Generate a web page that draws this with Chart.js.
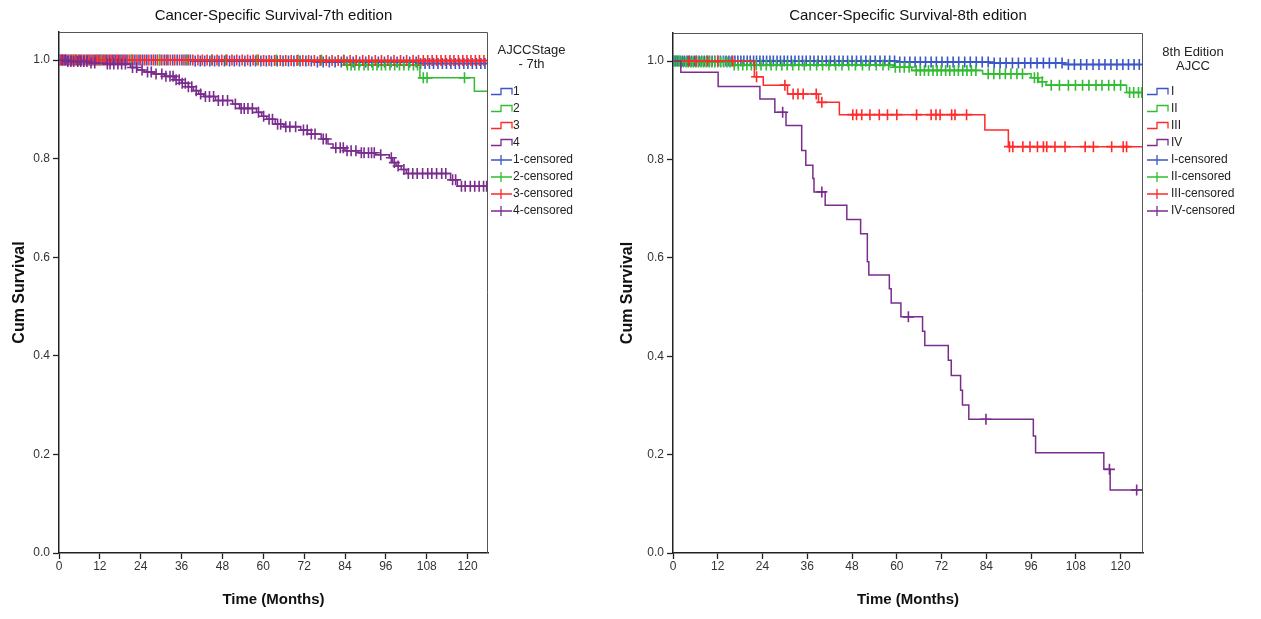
<!DOCTYPE html>
<html>
<head>
<meta charset="utf-8">
<script src="https://cdn.jsdelivr.net/npm/chart.js@4/dist/chart.umd.min.js"></script>
<style>
html, body { margin: 0; padding: 0; background: #fff; }
#wrap { position: relative; width: 1261px; height: 619px; }
canvas { position: absolute; top: 0; }
#c7 { left: 0; }
#c8 { left: 610px; }
</style>
</head>
<body>
<div id="wrap">
  <canvas id="c7" width="610" height="619"></canvas>
  <canvas id="c8" width="651" height="619"></canvas>
</div>
<script>
const xTicks = [0, 12, 24, 36, 48, 60, 72, 84, 96, 108, 120];
const yTicks = [0, 0.2, 0.4, 0.6, 0.8, 1.0];
const colors = ['#3a56c8', '#33bb33', '#ff2a2a', '#7b2d8e'];
const FONT = '"Liberation Sans", Arial, sans-serif';

// ---- 7th edition (event times / survival after event / censored times) ----
const t7s1 = [40, 75, 105];
const s7s1 = [0.998, 0.996, 0.993];
const c7s1 = [0.3, 0.8, 1.5, 2.1, 2.9, 3.6, 4.4, 5.2, 6.0, 6.7, 7.5, 8.4, 9.1, 10.0, 10.8, 11.5, 12.3, 13.2, 14.0, 14.9, 15.7, 16.5, 17.4, 18.2, 19.1, 20.0, 21.2, 22.3, 23.5, 24.6, 25.8, 27.1, 28.3, 29.6, 30.9, 32.0, 33.4, 34.7, 36.1, 37.3, 38.6, 40.0, 41.5, 42.8, 44.3, 45.7, 47.0, 48.6, 50.1, 51.5, 53.0, 54.6, 56.2, 57.7, 59.3, 60.9, 62.4, 64.1, 65.8, 67.4, 69.0, 70.8, 72.5, 74.1, 75.9, 77.6, 79.4, 81.1, 82.9, 84.6, 86.4, 88.3, 90.1, 91.9, 93.8, 95.6, 97.5, 99.3, 101.2, 103.0, 104.9, 106.2, 107.5, 108.8, 110.0, 111.3, 112.6, 113.8, 115.1, 116.4, 117.6, 118.9, 120.1, 121.4, 122.6, 123.9, 125.1];

const t7s2 = [84, 106, 122];
const s7s2 = [0.990, 0.964, 0.937];
const c7s2 = [4.6, 12.2, 21.4, 29.5, 37.6, 44.9, 49.0, 58.0, 63.8, 70.2, 77.1, 83.6, 84.7, 85.8, 86.9, 88.1, 89.6, 90.8, 92.2, 93.4, 94.7, 95.9, 97.2, 98.6, 100.0, 101.3, 102.7, 104.1, 105.3, 107.0, 108.1, 119.1];

const t7s3 = [60];
const s7s3 = [0.999];
const c7s3 = [0.5, 1.2, 1.9, 2.6, 3.4, 4.1, 4.9, 5.7, 6.4, 7.2, 8.0, 8.8, 9.6, 10.4, 11.1, 11.9, 12.8, 13.6, 14.4, 15.3, 16.1, 17.0, 17.8, 18.7, 19.6, 20.6, 21.7, 22.9, 24.0, 25.2, 26.4, 27.7, 28.9, 30.2, 31.5, 32.7, 34.0, 35.4, 36.7, 38.0, 39.3, 40.8, 42.1, 43.5, 45.0, 46.4, 47.8, 49.3, 50.8, 52.2, 53.8, 55.4, 57.0, 58.5, 60.1, 61.7, 63.3, 65.0, 66.6, 68.2, 69.9, 71.6, 73.3, 75.0, 76.7, 78.5, 80.2, 82.0, 83.7, 85.5, 87.3, 89.2, 91.0, 92.9, 94.7, 96.6, 98.4, 100.3, 102.1, 104.0, 105.6, 107.0, 108.3, 109.6, 110.9, 112.2, 113.5, 114.8, 116.0, 117.3, 118.6, 119.8, 121.0, 122.3, 123.5, 124.8];

const t7s4 = [2, 9, 14, 21, 23, 25, 28, 31, 34, 36, 38, 39.5, 41, 42.5, 46, 51, 53, 58, 59.5, 61, 63.5, 66, 71, 73, 77, 79, 80.5, 84, 88, 93, 97, 98, 99, 100.5, 102, 115, 117];
const s7s4 = [0.997, 0.994, 0.992, 0.985, 0.980, 0.976, 0.972, 0.967, 0.960, 0.953, 0.946, 0.938, 0.931, 0.926, 0.918, 0.911, 0.902, 0.894, 0.886, 0.880, 0.870, 0.865, 0.858, 0.850, 0.840, 0.830, 0.822, 0.816, 0.812, 0.808, 0.802, 0.792, 0.785, 0.778, 0.770, 0.757, 0.744];
const c7s4 = [1.0, 1.8, 2.6, 3.5, 4.3, 5.5, 6.4, 7.3, 8.2, 9.4, 10.5, 14.2, 15.0, 16.1, 17.3, 18.4, 19.5, 21.6, 22.8, 24.4, 26.0, 27.1, 28.5, 30.2, 31.4, 32.6, 33.5, 34.4, 35.3, 36.2, 37.1, 38.0, 39.0, 40.3, 41.6, 43.0, 44.2, 45.4, 46.8, 48.1, 49.5, 51.8, 53.5, 54.4, 55.5, 56.8, 58.6, 60.1, 61.7, 62.7, 64.2, 65.1, 66.6, 67.8, 69.5, 71.8, 72.9, 74.1, 75.2, 77.6, 78.5, 81.3, 82.6, 83.5, 84.6, 85.8, 87.2, 88.8, 89.6, 90.9, 91.8, 92.6, 94.5, 97.6, 98.5, 99.6, 101.3, 102.6, 103.9, 105.2, 106.8, 108.3, 109.5, 110.9, 112.4, 113.6, 115.6, 116.5, 118.2, 119.3, 120.8, 122.1, 123.4, 124.7, 125.6];

// ---- 8th edition ----
const t8s1 = [60, 85, 105];
const s8s1 = [0.998, 0.996, 0.993];
const c8s1 = [0.2, 0.7, 1.3, 1.9, 2.5, 3.1, 3.8, 4.4, 5.0, 5.7, 6.3, 7.0, 7.7, 8.4, 9.1, 9.8, 10.5, 11.2, 12.0, 12.7, 13.5, 14.2, 15.0, 15.8, 16.6, 17.4, 18.2, 19.0, 19.9, 20.7, 21.6, 22.4, 23.3, 24.2, 25.1, 26.0, 26.9, 27.9, 28.8, 29.8, 30.7, 31.7, 32.7, 33.7, 34.7, 35.7, 36.8, 37.8, 38.9, 40.0, 41.1, 42.2, 43.3, 44.5, 45.6, 46.8, 48.0, 49.2, 50.4, 51.7, 52.9, 54.2, 55.5, 56.8, 58.1, 59.4, 60.8, 62.1, 63.5, 64.9, 66.3, 67.7, 69.2, 70.6, 72.1, 73.6, 75.1, 76.6, 78.2, 79.7, 81.3, 82.9, 84.5, 86.1, 87.7, 89.3, 91.0, 92.6, 94.3, 95.9, 97.6, 99.3, 100.9, 102.6, 104.3, 106.0, 107.6, 109.3, 110.9, 112.6, 114.2, 115.8, 117.4, 119.0, 120.6, 122.1, 123.6, 125.0];

const t8s2 = [2, 16, 59, 64, 83, 96, 98, 100, 121.6];
const s8s2 = [0.998, 0.992, 0.9875, 0.981, 0.974, 0.966, 0.958, 0.951, 0.936];
const c8s2 = [0.4, 0.9, 1.5, 2.2, 2.8, 3.5, 4.1, 4.8, 5.4, 6.1, 6.8, 7.5, 8.2, 8.9, 9.7, 10.4, 11.2, 12.0, 12.8, 13.6, 14.5, 15.3, 16.4, 17.5, 18.7, 19.8, 21.0, 22.3, 23.6, 25.0, 26.3, 27.7, 29.2, 30.6, 32.1, 33.7, 35.2, 36.8, 38.5, 40.1, 41.8, 43.6, 45.3, 47.1, 48.9, 50.8, 52.6, 54.5, 56.3, 57.8, 59.6, 60.8, 62.0, 63.3, 65.2, 66.3, 67.4, 68.5, 69.7, 70.8, 71.9, 73.1, 74.2, 75.4, 76.5, 77.7, 78.8, 80.0, 81.2, 84.5, 86.0, 87.6, 89.1, 90.6, 92.2, 93.7, 96.9, 97.8, 99.0, 101.4, 103.6, 106.0, 107.9, 109.8, 111.5, 113.4, 115.0, 116.8, 118.3, 120.0, 122.4, 123.5, 124.8, 125.7];

const t8s3 = [21.8, 24.2, 30.7, 39, 44.6, 83.6, 89.9];
const s8s3 = [0.968, 0.951, 0.933, 0.916, 0.891, 0.860, 0.826];
const c8s3 = [4.2, 6.2, 9.3, 12, 16, 22.4, 30, 32.2, 33.5, 34.9, 38.4, 39.9, 48.2, 49.2, 50.6, 52.8, 55.3, 57.5, 60.0, 65.3, 69.2, 70.5, 71.6, 74.7, 75.6, 78.7, 90.2, 91.1, 93.8, 95.7, 97.7, 99.3, 100.2, 102.4, 105.1, 110.5, 112.7, 117.6, 120.7, 121.6];

const t8s4 = [2.1, 12.1, 23.3, 27.3, 30.3, 34.5, 35.6, 37.5, 37.8, 40.8, 46.6, 50.3, 52.1, 52.5, 58.0, 58.5, 61.1, 66.9, 67.5, 73.8, 74.6, 77.1, 77.6, 79.3, 96.6, 97.2, 115.5, 117.2];
const s8s4 = [0.977, 0.948, 0.923, 0.896, 0.869, 0.818, 0.788, 0.761, 0.734, 0.707, 0.678, 0.649, 0.592, 0.565, 0.537, 0.508, 0.480, 0.451, 0.422, 0.392, 0.361, 0.331, 0.301, 0.272, 0.238, 0.204, 0.170, 0.128];
const c8s4 = [29.4, 39.9, 63.1, 83.9, 117, 124.3];

const lastFollowUp = 126;
const labels7 = ['1', '2', '3', '4', '1-censored', '2-censored', '3-censored', '4-censored'];
const labels8 = ['I', 'II', 'III', 'IV', 'I-censored', 'II-censored', 'III-censored', 'IV-censored'];

function survAt(times, surv, t) {
    let v = 1;
    times.forEach((tt, i) => { if (tt <= t) v = surv[i]; });
    return v;
}

function buildDatasets(groups) {
    const ds = [];
    groups.forEach((g, i) => {
        const pts = [{ x: 0, y: 1 }];
        g.times.forEach((t, j) => pts.push({ x: t, y: g.surv[j] }));
        pts.push({ x: lastFollowUp, y: survAt(g.times, g.surv, lastFollowUp) });
        ds.push({
            data: pts,
            stepped: true,
            borderColor: colors[i],
            borderWidth: 1.5,
            pointRadius: 0,
            fill: false,
            order: (3 - i) * 2
        });
        ds.push({
            data: g.cens.map(t => ({ x: t, y: survAt(g.times, g.surv, t) })),
            showLine: false,
            pointStyle: 'cross',
            pointRadius: 5.5,
            pointBorderWidth: 1.6,
            pointBorderColor: colors[i],
            borderColor: colors[i],
            order: (3 - i) * 2 + 1
        });
    });
    return ds;
}

const kmLegend = {
    id: 'kmLegend',
    afterDraw(chart, args, opts) {
        const ctx = chart.ctx;
        ctx.save();
        ctx.fillStyle = '#222';
        ctx.textBaseline = 'middle';
        ctx.textAlign = 'center';
        ctx.font = '13px ' + FONT;
        opts.title.forEach((line, i) => ctx.fillText(line, opts.titleX, opts.titleY + i * 14.5));
        ctx.textAlign = 'left';
        ctx.font = '12px ' + FONT;
        opts.labels.forEach((lab, i) => {
            const y = opts.itemY + i * 17;
            const x0 = opts.iconX, x1 = opts.iconX + 21, xm = opts.iconX + 10;
            ctx.strokeStyle = colors[i % 4];
            ctx.lineWidth = 1.3;
            ctx.beginPath();
            if (i < 4) {
                ctx.moveTo(x0, y + 2.5);
                ctx.lineTo(xm, y + 2.5);
                ctx.lineTo(xm, y - 3.5);
                ctx.lineTo(x1, y - 3.5);
                ctx.lineTo(x1, y + 2.5);
            } else {
                ctx.moveTo(x0, y);
                ctx.lineTo(x1, y);
                ctx.moveTo(xm, y - 5);
                ctx.lineTo(xm, y + 5);
            }
            ctx.stroke();
            ctx.fillText(lab, opts.textX, y);
        });
        ctx.restore();
    }
};

const plotBox = {
    id: 'plotBox',
    afterDraw(chart) {
        const { ctx, chartArea: a } = chart;
        ctx.save();
        ctx.strokeStyle = '#555';
        ctx.lineWidth = 1;
        ctx.beginPath();
        ctx.moveTo(a.left, a.top + 0.5);
        ctx.lineTo(a.right - 0.5, a.top + 0.5);
        ctx.lineTo(a.right - 0.5, a.bottom);
        ctx.stroke();
        ctx.restore();
    }
};

function makeChart(id, cfg) {
    return new Chart(document.getElementById(id), {
        type: 'line',
        data: { datasets: buildDatasets(cfg.groups) },
        options: {
            responsive: false,
            animation: false,
            layout: { padding: { left: 0, right: cfg.padRight, top: 0, bottom: 0 } },
            plugins: {
                legend: { display: false },
                tooltip: { enabled: false },
                title: {
                    display: true,
                    text: cfg.title,
                    fullSize: false,
                    color: '#111',
                    font: { family: FONT, size: 15, weight: 'normal' },
                    padding: { top: 7, bottom: cfg.titleBottom }
                },
                kmLegend: cfg.legend
            },
            scales: {
                x: {
                    type: 'linear',
                    min: 0,
                    max: 126,
                    afterFit: (s) => { s.height = 66; },
                    afterBuildTicks: (s) => { s.ticks = xTicks.map(v => ({ value: v })); },
                    grid: { drawOnChartArea: false, tickLength: 6, tickColor: '#222', tickWidth: 1.3 },
                    border: { color: '#222', width: 1.5 },
                    ticks: { color: '#333', font: { family: FONT, size: 12 }, padding: 0, maxRotation: 0 },
                    title: {
                        display: true,
                        text: 'Time (Months)',
                        color: '#111',
                        font: { family: FONT, size: 15, weight: 'bold' },
                        padding: { top: 4, bottom: 10 }
                    }
                },
                y: {
                    min: 0,
                    max: 1.057,
                    afterFit: (s) => { s.width = cfg.yWidth; },
                    afterBuildTicks: (s) => { s.ticks = yTicks.map(v => ({ value: v })); },
                    grid: { drawOnChartArea: false, tickLength: 6, tickColor: '#222', tickWidth: 1.3 },
                    border: { color: '#222', width: 1.5 },
                    ticks: {
                        color: '#333',
                        font: { family: FONT, size: 12 },
                        padding: 3,
                        callback: (v) => v.toFixed(1)
                    },
                    title: {
                        display: true,
                        text: 'Cum Survival',
                        color: '#111',
                        font: { family: FONT, size: 16, weight: 'bold' },
                        padding: { top: cfg.yTitlePad, bottom: 0 }
                    }
                }
            }
        },
        plugins: [kmLegend, plotBox]
    });
}

makeChart('c7', {
    title: 'Cancer-Specific Survival-7th edition',
    groups: [
        { times: t7s1, surv: s7s1, cens: c7s1 },
        { times: t7s2, surv: s7s2, cens: c7s2 },
        { times: t7s3, surv: s7s3, cens: c7s3 },
        { times: t7s4, surv: s7s4, cens: c7s4 }
    ],
    padRight: 122,
    yWidth: 59,
    yTitlePad: 10.4,
    titleBottom: 7,
    legend: { title: ['AJCCStage', '- 7th'], titleX: 531.5, titleY: 50, labels: labels7, itemY: 92, iconX: 491, textX: 513 }
});

makeChart('c8', {
    title: 'Cancer-Specific Survival-8th edition',
    groups: [
        { times: t8s1, surv: s8s1, cens: c8s1 },
        { times: t8s2, surv: s8s2, cens: c8s2 },
        { times: t8s3, surv: s8s3, cens: c8s3 },
        { times: t8s4, surv: s8s4, cens: c8s4 }
    ],
    padRight: 118,
    yWidth: 63,
    yTitlePad: 8.4,
    titleBottom: 8,
    legend: { title: ['8th Edition', 'AJCC'], titleX: 583, titleY: 52, labels: labels8, itemY: 92, iconX: 537, textX: 561 }
});
</script>
</body>
</html>
